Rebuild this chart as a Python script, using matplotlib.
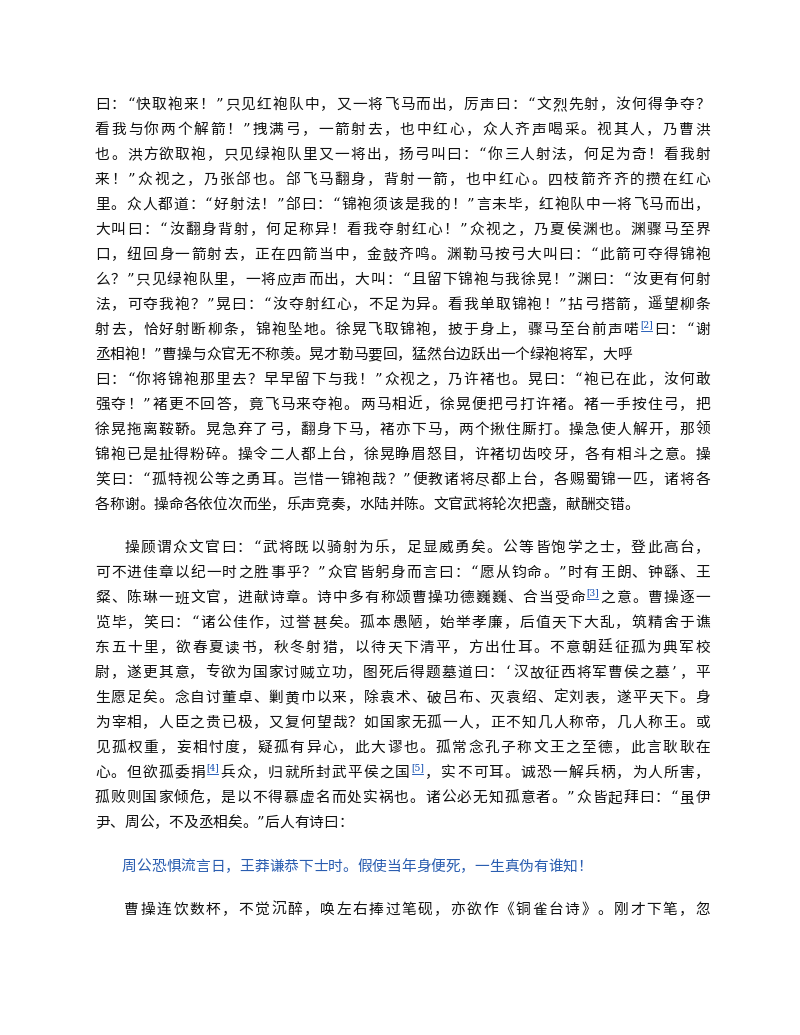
import matplotlib
matplotlib.use("Agg")
import matplotlib.pyplot as plt

plt.rcParams['font.family'] = ['Noto Sans CJK SC', 'DejaVu Sans']

# paragraph lines; "{n}" marks a footnote reference; True = justified line
para1 = [
    ("曰：“快取袍来！”只见红袍队中，又一将飞马而出，厉声曰：“文烈先射，汝何得争夺？", True),
    ("看我与你两个解箭！”拽满弓，一箭射去，也中红心，众人齐声喝采。视其人，乃曹洪", True),
    ("也。洪方欲取袍，只见绿袍队里又一将出，扬弓叫曰：“你三人射法，何足为奇！看我射", True),
    ("来！”众视之，乃张郃也。郃飞马翻身，背射一箭，也中红心。四枝箭齐齐的攒在红心", True),
    ("里。众人都道：“好射法！”郃曰：“锦袍须该是我的！”言未毕，红袍队中一将飞马而出，", True),
    ("大叫曰：“汝翻身背射，何足称异！看我夺射红心！”众视之，乃夏侯渊也。渊骤马至界", True),
    ("口，纽回身一箭射去，正在四箭当中，金鼓齐鸣。渊勒马按弓大叫曰：“此箭可夺得锦袍", True),
    ("么？”只见绿袍队里，一将应声而出，大叫：“且留下锦袍与我徐晃！”渊曰：“汝更有何射", True),
    ("法，可夺我袍？”晃曰：“汝夺射红心，不足为异。看我单取锦袍！”拈弓搭箭，遥望柳条", True),
    ("射去，恰好射断柳条，锦袍坠地。徐晃飞取锦袍，披于身上，骤马至台前声喏{2}曰：“谢", True),
    ("丞相袍！”曹操与众官无不称羡。晃才勒马要回，猛然台边跃出一个绿袍将军，大呼", False),
    ("曰：“你将锦袍那里去？早早留下与我！”众视之，乃许褚也。晃曰：“袍已在此，汝何敢", True),
    ("强夺！”褚更不回答，竟飞马来夺袍。两马相近，徐晃便把弓打许褚。褚一手按住弓，把", True),
    ("徐晃拖离鞍鞒。晃急弃了弓，翻身下马，褚亦下马，两个揪住厮打。操急使人解开，那领", True),
    ("锦袍已是扯得粉碎。操令二人都上台，徐晃睁眉怒目，许褚切齿咬牙，各有相斗之意。操", True),
    ("笑曰：“孤特视公等之勇耳。岂惜一锦袍哉？”便教诸将尽都上台，各赐蜀锦一匹，诸将各", True),
    ("各称谢。操命各依位次而坐，乐声竞奏，水陆并陈。文官武将轮次把盏，献酬交错。", False),
]
para2 = [
    ("操顾谓众文官曰：“武将既以骑射为乐，足显威勇矣。公等皆饱学之士，登此高台，", True),
    ("可不进佳章以纪一时之胜事乎？”众官皆躬身而言曰：“愿从钧命。”时有王朗、钟繇、王", True),
    ("粲、陈琳一班文官，进献诗章。诗中多有称颂曹操功德巍巍、合当受命{3}之意。曹操逐一", True),
    ("览毕，笑曰：“诸公佳作，过誉甚矣。孤本愚陋，始举孝廉，后值天下大乱，筑精舍于谯", True),
    ("东五十里，欲春夏读书，秋冬射猎，以待天下清平，方出仕耳。不意朝廷征孤为典军校", True),
    ("尉，遂更其意，专欲为国家讨贼立功，图死后得题墓道曰：‘汉故征西将军曹侯之墓’，平", True),
    ("生愿足矣。念自讨董卓、剿黄巾以来，除袁术、破吕布、灭袁绍、定刘表，遂平天下。身", True),
    ("为宰相，人臣之贵已极，又复何望哉？如国家无孤一人，正不知几人称帝，几人称王。或", True),
    ("见孤权重，妄相忖度，疑孤有异心，此大谬也。孤常念孔子称文王之至德，此言耿耿在", True),
    ("心。但欲孤委捐{4}兵众，归就所封武平侯之国{5}，实不可耳。诚恐一解兵柄，为人所害，", True),
    ("孤败则国家倾危，是以不得慕虚名而处实祸也。诸公必无知孤意者。”众皆起拜曰：“虽伊", True),
    ("尹、周公，不及丞相矣。”后人有诗曰：", False),
]
poem = "周公恐惧流言日，王莽谦恭下士时。假使当年身便死，一生真伪有谁知！"
para3 = [("曹操连饮数杯，不觉沉醉，唤左右捧过笔砚，亦欲作《铜雀台诗》。刚才下笔，忽", True)]

W, H = 800, 1035
fig = plt.figure(figsize=(8, 10.35), dpi=100)
ax = fig.add_axes([0, 0, 1, 1])
ax.set_xlim(0, W)
ax.set_ylim(H, 0)
ax.axis('off')

LEFT, RIGHT = 95, 710
PITCH = 14.7
QW = 8
SUPW = 13
FS = 10.6
LINK = '#0645ad'
QUOTES = '“”‘’'


def tokens(s):
    out = []
    i = 0
    while i < len(s):
        if s[i] == '{':
            j = s.index('}', i)
            out.append(('sup', '[' + s[i + 1:j] + ']'))
            i = j + 1
        elif s[i] in QUOTES:
            out.append(('q', s[i]))
            i += 1
        else:
            out.append(('ch', s[i]))
            i += 1
    return out


def draw_line(s, y, justify, indent=0, color='#111111'):
    toks = tokens(s)
    widths = [PITCH if t == 'ch' else QW if t == 'q' else SUPW for t, _ in toks]
    x0 = LEFT + indent
    extra = 0
    if justify and len(toks) > 1:
        extra = (RIGHT - x0 - sum(widths)) / (len(toks) - 1)
    x = x0
    for (t, c), w in zip(toks, widths):
        if t == 'ch':
            ax.text(x + w / 2, y, c, fontsize=FS, color=color,
                    ha='center', va='center')
        elif t == 'q':
            ax.text(x + w / 2, y - 1, c, fontsize=FS, color=color,
                    ha='center', va='center', family='DejaVu Serif')
        else:
            ax.text(x + w / 2, y - 5, c, fontsize=6.5, color=LINK,
                    ha='center', va='center', family='DejaVu Serif')
            ax.plot([x + 1, x + w - 1], [y + 0.5, y + 0.5], color=LINK, lw=0.6)
        x += w + extra


LH = 25
y = 105
for s, j in para1:
    draw_line(s, y, j)
    y += LH
y = 548
for k, (s, j) in enumerate(para2):
    draw_line(s, y, j, indent=2 * PITCH if k == 0 else 0)
    y += LH
draw_line(poem, 867, False, indent=27, color='#2a5db0')
for s, j in para3:
    draw_line(s, 910, j, indent=2 * PITCH)

fig.savefig('out.png', dpi=100, facecolor='white')
